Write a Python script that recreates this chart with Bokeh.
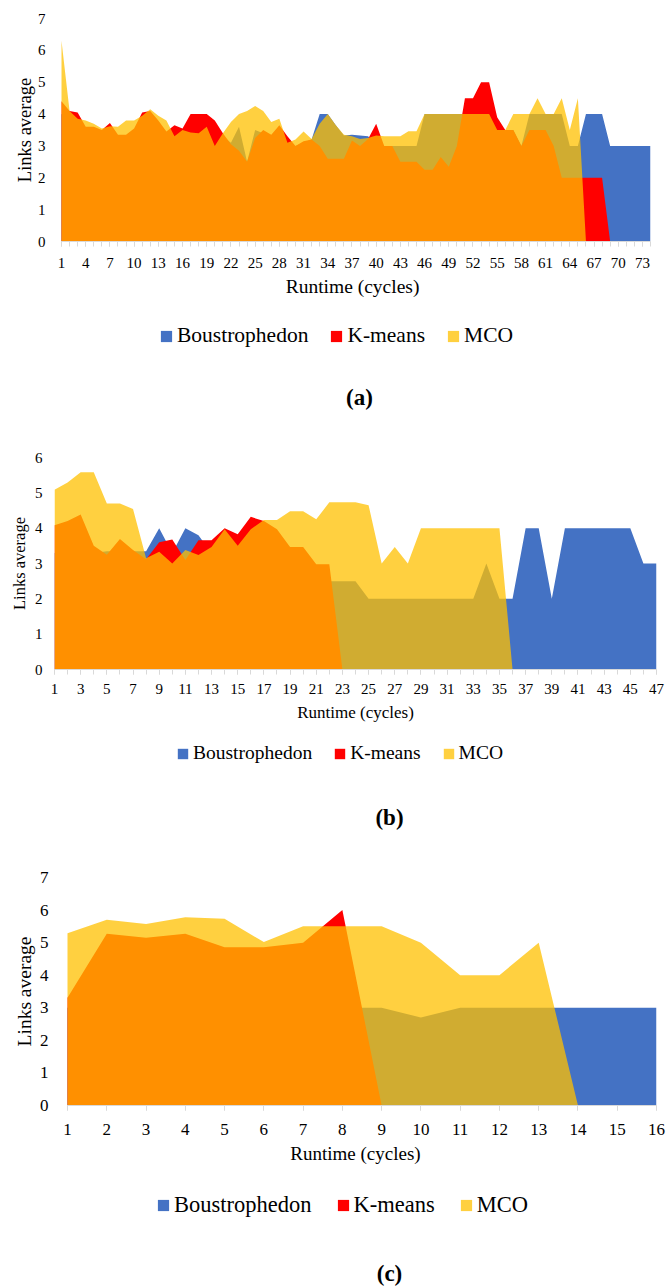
from bokeh.plotting import figure
from bokeh.models import Range1d, FixedTicker, Legend, LegendItem, Label
from bokeh.layouts import column
from bokeh.embed import file_html
from bokeh.resources import INLINE

FONT = "Liberation Serif"
BLUE = "#4472C4"
RED = "#FF0000"
YELLOW = "#FFC000"
SERIES = ["Boustrophedon", "K-means", "MCO"]

# ---------------- panel (a) ----------------
cycles_a = list(range(1, 75))
boustro_a = [4.0, 3.8, 3.6, 3.5, 3.5, 3.4, 3.5, 3.3, 3.3, 3.5, 3.8, 4.0, 3.7, 3.4, 3.3,
             3.4, 3.4, 3.4, 3.5, 3.0, 3.3, 3.1, 3.6, 2.5, 3.5, 3.4, 3.3, 3.5, 3.0, 3.0,
             3.1, 3.2, 4.0, 4.0, 3.65, 3.33, 3.35, 3.33, 3.3, 3.0, 3.0, 3.0, 3.0, 3.0, 3.0,
             4.0, 4.0, 4.0, 4.0, 4.0, 4.0, 4.0, 4.0, 4.0, 3.5, 3.5, 3.5, 3.0, 4.0, 4.0,
             4.0, 4.0, 4.0, 3.0, 3.0, 4.0, 4.0, 4.0, 3.0, 3.0, 3.0, 3.0, 3.0, 3.0]
kmeans_a = [4.4, 4.1, 4.05, 3.6, 3.6, 3.5, 3.72, 3.35, 3.35, 3.55, 4.05, 4.1, 3.8, 3.45, 3.65,
            3.55, 4.0, 4.0, 4.0, 3.8, 3.4, 3.05, 2.85, 2.5, 3.25, 3.5, 3.35, 3.65, 3.3, 3.0,
            3.15, 3.2, 3.0, 2.6, 2.6, 2.6, 3.17, 3.0, 3.22, 3.7, 3.0, 3.0, 2.5, 2.5, 2.5,
            2.25, 2.25, 2.65, 2.35, 3.0, 4.5, 4.5, 5.0, 5.0, 3.9, 3.5, 3.5, 3.0, 3.5, 3.5,
            3.5, 3.0, 2.0, 2.0, 2.0, 2.0, 2.0, 2.0, 0, 0, 0, 0, 0, 0]
mco_a = [6.3, 4.1, 3.85, 3.8, 3.7, 3.55, 3.62, 3.6, 3.8, 3.8, 3.95, 4.15, 3.95, 3.8, 3.3,
         3.5, 3.42, 3.4, 3.6, 3.0, 3.4, 3.75, 4.0, 4.1, 4.25, 4.1, 3.75, 3.85, 3.1, 3.2,
         3.45, 3.22, 3.7, 4.0, 3.65, 3.35, 3.3, 3.22, 3.25, 3.33, 3.3, 3.3, 3.3, 3.46, 3.46,
         4.0, 4.0, 4.0, 4.0, 4.0, 4.0, 4.0, 4.0, 4.0, 3.5, 3.5, 4.0, 4.0, 4.0, 4.5,
         4.0, 4.0, 4.5, 3.5, 4.5, 0, 0, 0, 0, 0, 0, 0, 0, 0]
xticks_a = list(range(1, 75, 3))
yticks_a = list(range(0, 8))

# ---------------- panel (b) ----------------
cycles_b = list(range(1, 48))
boustro_b = [3.3, 3.3, 3.3, 3.3, 3.35, 3.35, 3.35, 3.35, 4.0, 3.3, 4.0, 3.8, 3.3, 3.3, 3.3,
             3.3, 3.3, 3.3, 3.0, 3.0, 2.5, 2.5, 2.5, 2.5, 2.0, 2.0, 2.0, 2.0, 2.0, 2.0,
             2.0, 2.0, 2.0, 3.0, 2.0, 2.0, 4.0, 4.0, 2.0, 4.0, 4.0, 4.0, 4.0, 4.0, 4.0,
             3.0, 3.0]
kmeans_b = [4.08, 4.2, 4.39, 3.5, 3.25, 3.69, 3.38, 3.12, 3.6, 3.68, 3.1, 3.66, 3.66, 4.0, 3.83,
            4.32, 4.2, 3.97, 3.47, 3.47, 2.98, 2.98, 0, 0, 0, 0, 0, 0, 0, 0,
            0, 0, 0, 0, 0, 0, 0, 0, 0, 0, 0, 0, 0, 0, 0, 0, 0]
mco_b = [5.09, 5.29, 5.58, 5.58, 4.7, 4.7, 4.54, 3.15, 3.33, 3.0, 3.38, 3.24, 3.47, 3.97, 3.5,
         3.97, 4.23, 4.23, 4.48, 4.48, 4.25, 4.73, 4.73, 4.73, 4.65, 3.0, 3.47, 3.0, 4.0, 4.0,
         4.0, 4.0, 4.0, 4.0, 4.0, 0, 0, 0, 0, 0, 0, 0, 0, 0, 0, 0, 0]
xticks_b = list(range(1, 48, 2))
yticks_b = list(range(0, 7))

# ---------------- panel (c) ----------------
cycles_c = list(range(1, 17))
boustro_c = [3.0, 3.0, 3.0, 3.0, 3.0, 3.0, 3.0, 3.0, 3.0, 2.7, 3.0, 3.0, 3.0, 3.0, 3.0, 3.0]
kmeans_c = [3.31, 5.27, 5.15, 5.27, 4.86, 4.86, 5.0, 6.0, 0, 0, 0, 0, 0, 0, 0, 0]
mco_c = [5.29, 5.7, 5.57, 5.78, 5.73, 5.02, 5.5, 5.5, 5.5, 5.0, 4.0, 4.0, 5.0, 0, 0, 0]
xticks_c = list(range(1, 17))
yticks_c = list(range(0, 8))

LEFT = 54
RIGHT = 11


def panel(x, b, r, y, xticks, yticks, minor, cfg):
    p = figure(frame_width=cfg["fw"], frame_height=cfg["fh"],
               min_border_left=LEFT, min_border_right=RIGHT,
               min_border_top=cfg["top"], min_border_bottom=cfg["bottom"],
               x_range=Range1d(cfg["x0"], x[-1]), y_range=Range1d(yticks[0], yticks[-1]),
               output_backend="svg", toolbar_location=None)
    p.outline_line_color = None
    p.xgrid.visible = False
    p.ygrid.visible = False

    p.varea(x=x, y1=0, y2=b, fill_color=BLUE)
    p.varea(x=x, y1=0, y2=r, fill_color=RED)
    p.varea(x=x, y1=0, y2=y, fill_color=YELLOW, fill_alpha=0.75)

    xa = p.xaxis[0]
    xa.ticker = FixedTicker(ticks=xticks, minor_ticks=minor)
    xa.bounds = (x[0], x[-1])
    xa.axis_line_color = "#D9D9D9"
    xa.major_tick_line_color = "#D9D9D9"
    xa.minor_tick_line_color = "#D9D9D9"
    xa.major_tick_in = 0
    xa.major_tick_out = 5
    xa.minor_tick_in = 0
    xa.minor_tick_out = 5
    xa.major_label_standoff = cfg["xstand"]
    xa.major_label_text_font = FONT
    xa.major_label_text_font_size = cfg["tick_fs"]
    xa.major_label_text_color = "black"
    xa.axis_label = "Runtime (cycles)"
    xa.axis_label_text_font = FONT
    xa.axis_label_text_font_style = "normal"
    xa.axis_label_text_font_size = cfg["xtitle_fs"]
    xa.axis_label_text_color = "black"
    xa.axis_label_standoff = cfg["xlab_stand"]

    ya = p.yaxis[0]
    ya.ticker = FixedTicker(ticks=yticks)
    ya.axis_line_color = None
    ya.major_tick_line_color = None
    ya.minor_tick_line_color = None
    ya.major_tick_in = 0
    ya.major_tick_out = 0
    ya.minor_tick_in = 0
    ya.minor_tick_out = 0
    ya.major_label_standoff = cfg["ystand"]
    ya.major_label_text_font = FONT
    ya.major_label_text_font_size = cfg["tick_fs"]
    ya.major_label_text_color = "black"
    ya.axis_label = "Links average"
    ya.axis_label_text_font = FONT
    ya.axis_label_text_font_style = "normal"
    ya.axis_label_text_font_size = cfg["ytitle_fs"]
    ya.axis_label_text_color = "black"
    ya.axis_label_standoff = cfg["ylab_stand"]
    return p


def footer(cfg):
    H = cfg["H"]
    f = figure(frame_width=602, frame_height=H, min_border_left=LEFT, min_border_right=RIGHT,
               min_border_top=0, min_border_bottom=0,
               x_range=Range1d(0, 602), y_range=Range1d(0, H),
               x_axis_location=None, y_axis_location=None,
               output_backend="svg", toolbar_location=None)
    f.outline_line_color = None
    f.xgrid.visible = False
    f.ygrid.visible = False
    # zero-height stand-in areas, only used to draw the legend swatches
    rb = f.varea(x=[0, 1], y1=[0, 0], y2=[0, 0], fill_color=BLUE)
    rr = f.varea(x=[0, 1], y1=[0, 0], y2=[0, 0], fill_color=RED)
    ry = f.varea(x=[0, 1], y1=[0, 0], y2=[0, 0], fill_color=YELLOW, fill_alpha=0.75)
    legend = Legend(items=[LegendItem(label=SERIES[0], renderers=[rb]),
                           LegendItem(label=SERIES[1], renderers=[rr]),
                           LegendItem(label=SERIES[2], renderers=[ry])],
                    orientation="horizontal", location=(cfg["lx"], cfg["ly"]),
                    margin=0, padding=0, spacing=cfg["sp"],
                    border_line_color=None, background_fill_alpha=0,
                    label_text_font=FONT, label_text_font_size=cfg["fs"],
                    label_text_color="black", label_height=cfg["lh"],
                    label_text_baseline="middle",
                    glyph_width=cfg["sq"], glyph_height=cfg["sq"], label_standoff=4)
    f.add_layout(legend)
    f.add_layout(Label(x=cfg["cx"], y=cfg["cy"], text=cfg["cap"], text_font=FONT,
                       text_font_style="bold", text_font_size="23px", text_color="black",
                       text_align="center", text_baseline="middle"))
    return f


pa = panel(cycles_a, boustro_a, kmeans_a, mco_a, xticks_a, yticks_a, cycles_a,
           dict(fw=596, fh=223, top=18, bottom=68, x0=1 - 7 / 8.068,
                xstand=11, tick_fs="15px", xtitle_fs="19.5px", xlab_stand=5,
                ystand=9, ytitle_fs="18.5px", ylab_stand=0))
fa = footer(dict(H=121, lx=105, ly=82, sp=21, fs="21.5px", lh=25, sq=14,
                 cap="(a)", cx=305, cy=33))

pb = panel(cycles_b, boustro_b, kmeans_b, mco_b, xticks_b, yticks_b, cycles_b,
           dict(fw=602, fh=212, top=27, bottom=62, x0=1,
                xstand=9, tick_fs="15px", xtitle_fs="17px", xlab_stand=6,
                ystand=12, ytitle_fs="16.5px", ylab_stand=3))
fb = footer(dict(H=119, lx=122, ly=85, sp=21, fs="19.5px", lh=24, sq=13,
                 cap="(b)", cx=335, cy=33))

pc = panel(cycles_c, boustro_c, kmeans_c, mco_c, xticks_c, yticks_c, cycles_c,
           dict(fw=602, fh=228, top=27, bottom=68, x0=1 - 13 / 39.267,
                xstand=13, tick_fs="17px", xtitle_fs="19px", xlab_stand=5,
                ystand=6, ytitle_fs="19.5px", ylab_stand=2))
fc = footer(dict(H=113, lx=102, ly=68, sp=24, fs="22.5px", lh=26, sq=14,
                 cap="(c)", cx=335, cy=13))

layout = column(pa, fa, pb, fb, pc, fc, spacing=0)
open("out.html", "w").write(file_html(layout, INLINE))
